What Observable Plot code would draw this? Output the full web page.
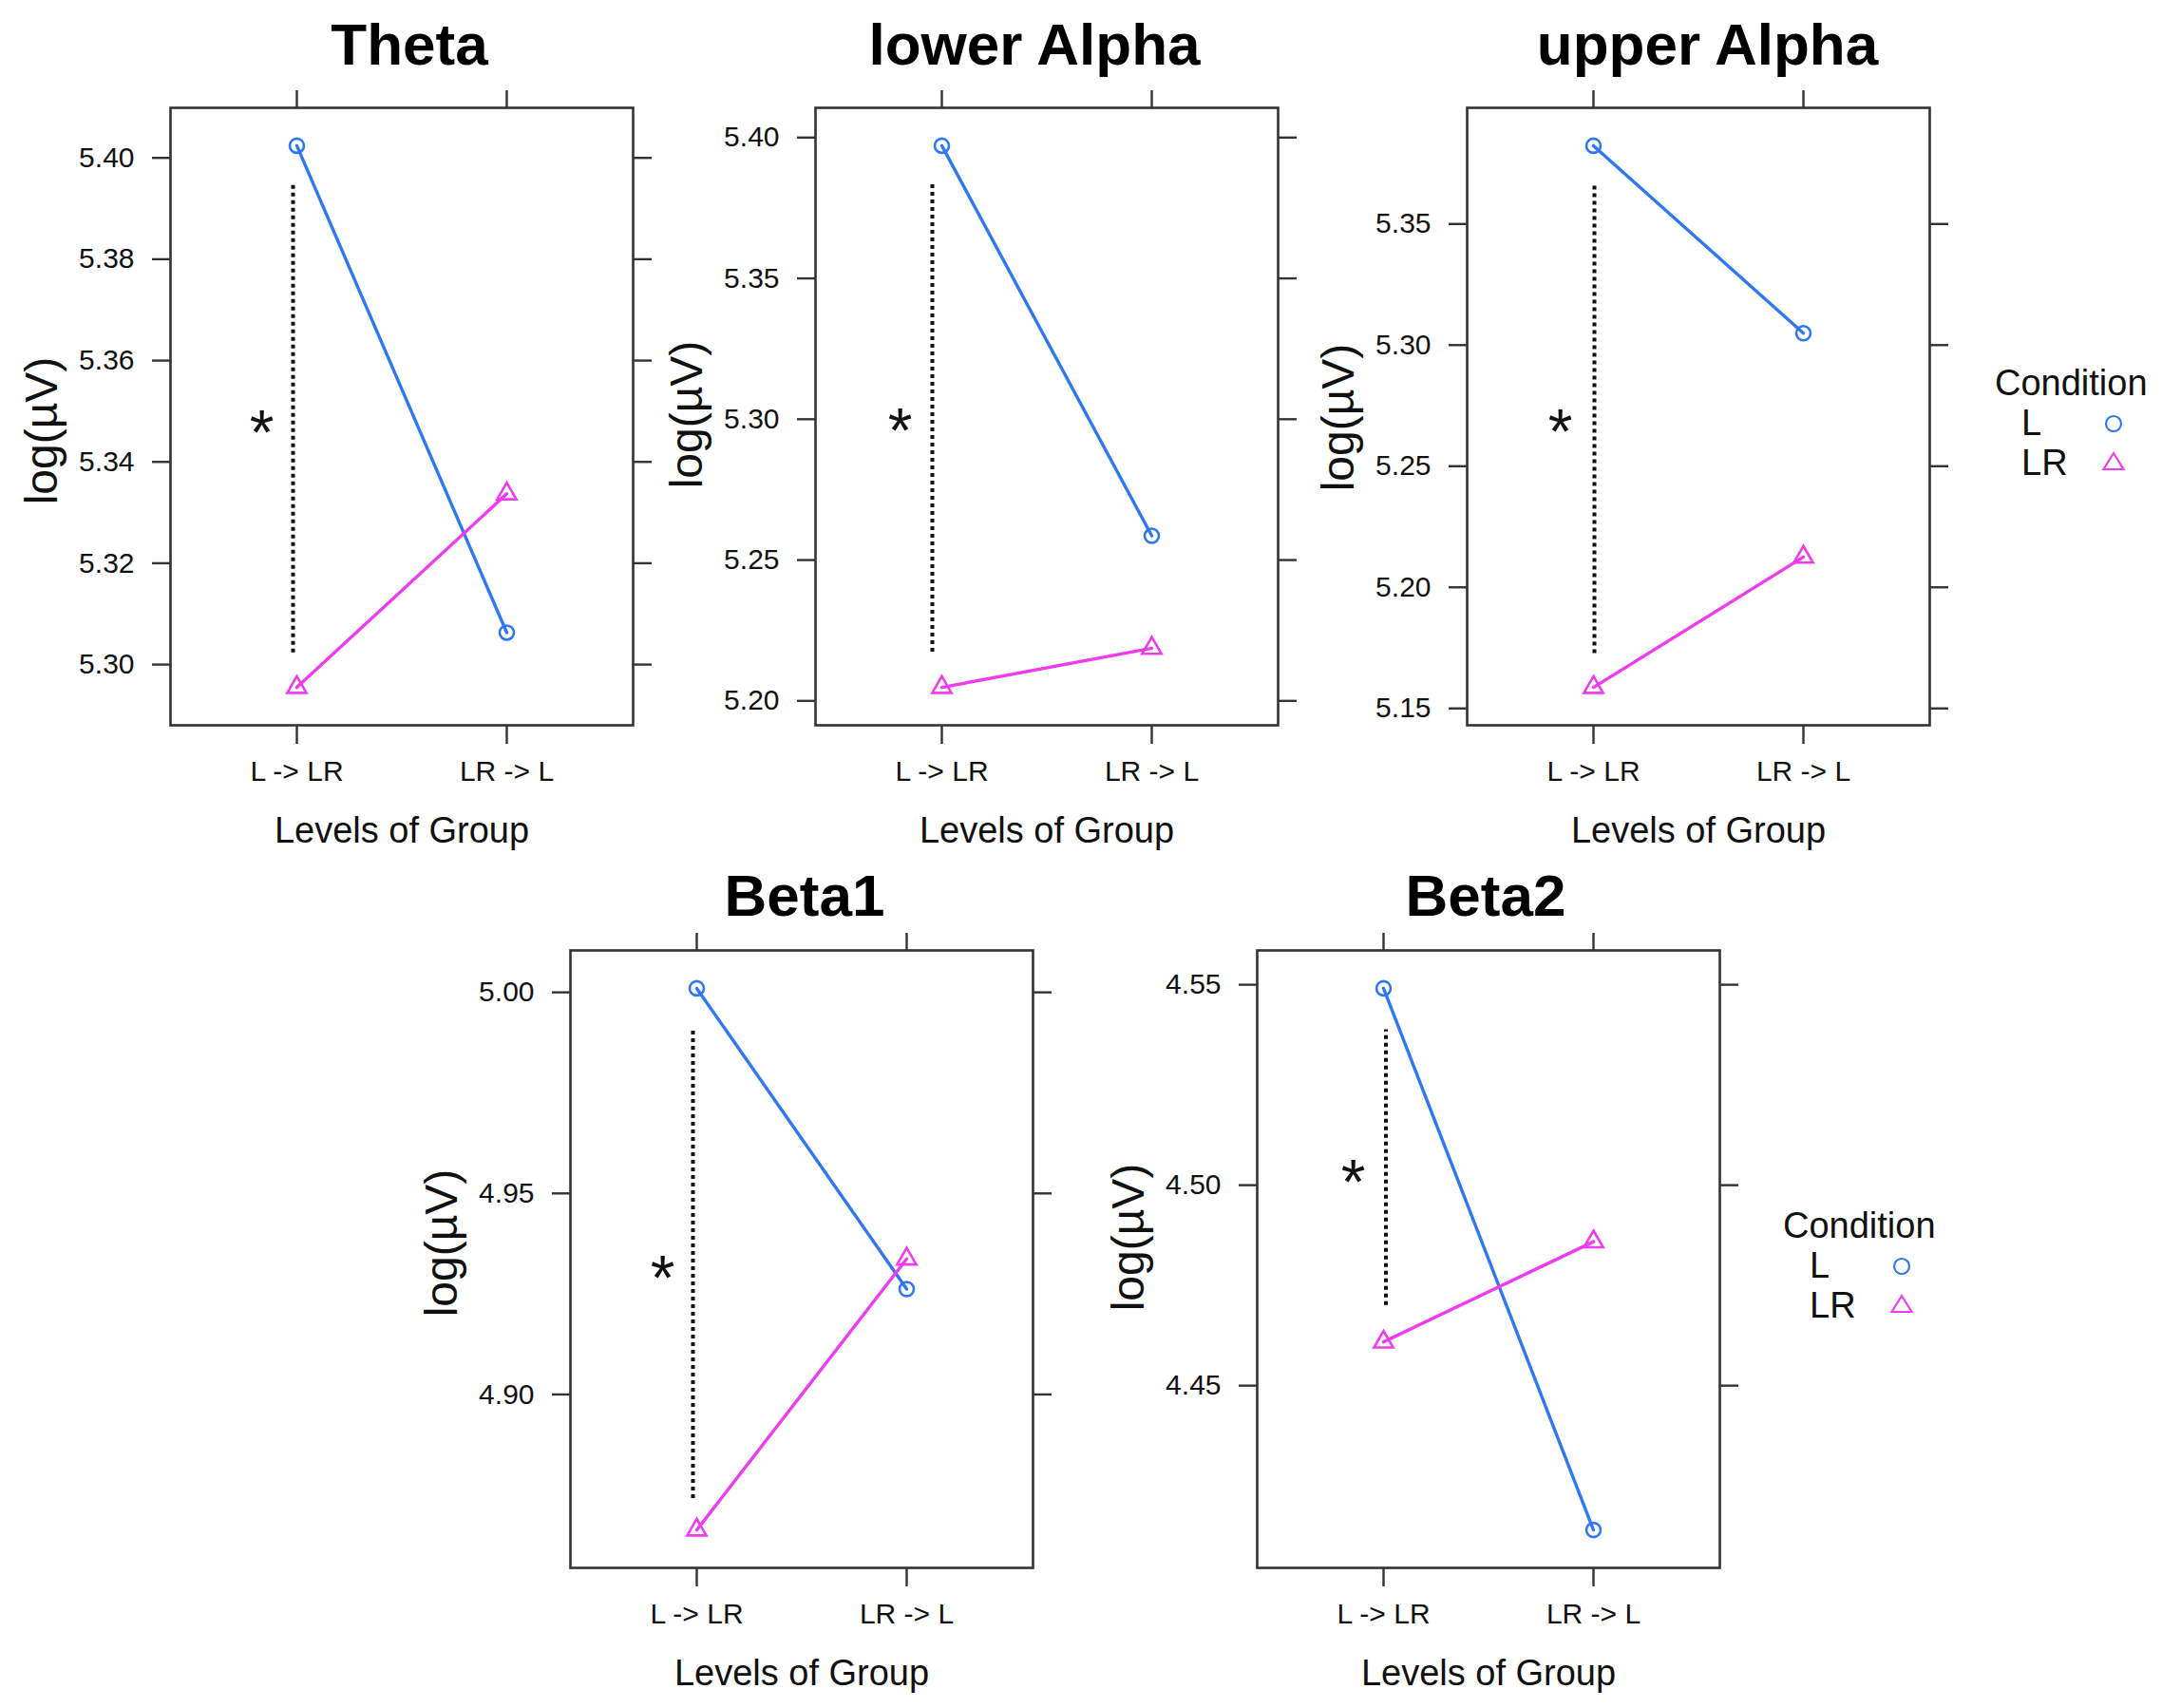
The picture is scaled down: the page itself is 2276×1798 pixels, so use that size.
<!DOCTYPE html>
<html><head><meta charset="utf-8">
<script src="https://cdn.jsdelivr.net/npm/d3@7"></script>
<script src="https://cdn.jsdelivr.net/npm/@observablehq/plot@0.6"></script>
<style>
html,body{margin:0;padding:0;background:#fff;}
#root{position:relative;width:2276px;height:1798px;overflow:hidden;font-family:"Liberation Sans",Arial,sans-serif;color:#111;background:#fff;}
.panel{position:absolute;}
.legend{position:absolute;font-size:38px;line-height:42px;color:#111;}
.legend .row{position:relative;height:42px;}
.legend .row span{padding-left:28px;}
.legend .row svg{position:absolute;left:113px;top:8px;overflow:visible;}
</style></head>
<body><div id="root"></div>
<script>
// ---------------- data ----------------
const groups = ["L -> LR", "LR -> L"];
const conditions = ["L", "LR"];
const bands = ["Theta", "lower Alpha", "upper Alpha", "Beta1", "Beta2"];
const valuesL  = [[5.4024, 5.3063], [5.3971, 5.2586], [5.3823, 5.3049], [5.0010, 4.9262], [4.5491, 4.4140]];
const valuesLR = [[5.2955, 5.3337], [5.2048, 5.2187], [5.1587, 5.2125], [4.8663, 4.9337], [4.4609, 4.4859]];
const yTicks = [
  [5.30, 5.32, 5.34, 5.36, 5.38, 5.40],
  [5.20, 5.25, 5.30, 5.35, 5.40],
  [5.15, 5.20, 5.25, 5.30, 5.35],
  [4.90, 4.95, 5.00],
  [4.45, 4.50, 4.55]
];
const sigLow  = [5.3023, 5.2173, 5.1727, 4.8741, 4.4700];
const sigHigh = [5.3950, 5.3839, 5.3669, 4.9908, 4.5388];
const starY   = [5.347, 5.298, 5.2666, 4.9305, 4.5023];
const starText = "*";
const yLabel = "log(µV)";
const xLabel = "Levels of Group";
const legendTitle = "Condition";
const colors = ["#2f78f2", "#ee3cee"];

// ---------------- layout ----------------
const W = 487, H = 650, ML = 175, MR = 45, MT = 105, MB = 145;
const layout = [
  {left: 178.5, top: 113, titleDx: 8,   titleDy: -46, sigDx: -4,  starDx: -37, yLabDy: 15},
  {left: 858,   top: 113, titleDx: -13, titleDy: -46, sigDx: -10, starDx: -44, yLabDy: -2},
  {left: 1544,  top: 113, titleDx: 9.5, titleDy: -46, sigDx: 1,   starDx: -35, yLabDy: 1},
  {left: 599.5, top: 1000, titleDx: 3,  titleDy: -37, sigDx: -4,  starDx: -36, yLabDy: -17},
  {left: 1322.5, top: 1000, titleDx: -3, titleDy: -37, sigDx: 2.5, starDx: -32, yLabDy: -23}
];
const legends = [{left: 2100, top: 382}, {left: 1877, top: 1269}];

const root = document.getElementById("root");
const axisColor = "#333";

bands.forEach((band, i) => {
  const L = layout[i];
  const rows = [];
  groups.forEach((g, j) => {
    rows.push({group: g, condition: conditions[0], value: valuesL[i][j]});
    rows.push({group: g, condition: conditions[1], value: valuesLR[i][j]});
  });
  const [lo, hi] = d3.extent(rows, d => d.value);
  const pad = (hi - lo) * 0.07;
  const chart = Plot.plot({
    width: W + ML + MR,
    height: H + MT + MB,
    marginLeft: ML, marginRight: MR, marginTop: MT, marginBottom: MB,
    style: {background: "transparent", overflow: "visible", fontFamily: "'Liberation Sans', Arial, sans-serif", color: "#111", maxWidth: "none"},
    x: {type: "point", domain: groups, padding: 0.6},
    y: {domain: [lo - pad, hi + pad]},
    color: {domain: conditions, range: colors},
    symbol: {domain: conditions, range: ["circle", "triangle"]},
    marks: [
      Plot.axisX({anchor: "bottom", tickSize: 20, tickPadding: 17, fontSize: 30, stroke: axisColor, strokeWidth: 2.4, label: null}),
      Plot.axisX({anchor: "top", tickSize: 19, tickFormat: () => "", stroke: axisColor, strokeWidth: 2.4, label: null}),
      Plot.axisY({anchor: "left", ticks: yTicks[i], tickFormat: ".2f", tickSize: 19, tickPadding: 19, fontSize: 30, stroke: axisColor, strokeWidth: 2.4, label: null}),
      Plot.axisY({anchor: "right", ticks: yTicks[i], tickFormat: () => "", tickSize: 19, stroke: axisColor, strokeWidth: 2.4, label: null}),
      Plot.frame({stroke: axisColor, strokeWidth: 2.6}),
      Plot.ruleX([groups[0]], {x: d => d, y1: () => sigLow[i], y2: () => sigHigh[i], dx: L.sigDx, stroke: "#111", strokeWidth: 4, strokeDasharray: "4,4"}),
      Plot.text([starY[i]], {x: () => groups[0], y: d => d, text: () => starText, dx: L.starDx, dy: 29, lineAnchor: "bottom", fontSize: 66, fill: "#111"}),
      Plot.line(rows, {x: "group", y: "value", z: "condition", stroke: "condition", strokeWidth: 3.4}),
      Plot.dot(rows, {x: "group", y: "value", stroke: "condition", symbol: "condition", r: 7.5, strokeWidth: 2.6, fill: "none"}),
      Plot.text([band], {text: d => d, frameAnchor: "top", dx: L.titleDx, dy: L.titleDy, lineAnchor: "bottom", fontSize: 62, fontWeight: "bold", fill: "#000"}),
      Plot.text([xLabel], {text: d => d, frameAnchor: "bottom", dy: 123, lineAnchor: "bottom", fontSize: 38, fill: "#111"}),
      Plot.text([yLabel], {text: d => d, frameAnchor: "left", textAnchor: "middle", dx: -135, dy: L.yLabDy, rotate: -90, lineAnchor: "middle", fontSize: 48, fill: "#111"})
    ]
  });
  const wrap = document.createElement("div");
  wrap.className = "panel";
  wrap.style.left = (L.left - ML) + "px";
  wrap.style.top = (L.top - MT) + "px";
  wrap.appendChild(chart);
  root.appendChild(wrap);
});

// legends
const symbolSvg = [
  c => `<svg width="24" height="24" viewBox="-12 -12 24 24" style="top:10px"><circle r="8" fill="none" stroke="${c}" stroke-width="2.2"/></svg>`,
  c => `<svg width="24" height="24" viewBox="-12 -12 24 24"><path d="M0,-9L10.5,8H-10.5Z" fill="none" stroke="${c}" stroke-width="2.2"/></svg>`
];
legends.forEach(pos => {
  const div = document.createElement("div");
  div.className = "legend";
  div.style.left = pos.left + "px";
  div.style.top = pos.top + "px";
  div.innerHTML = `<div>${legendTitle}</div>` +
    conditions.map((c, k) => `<div class="row"><span>${c}</span>${symbolSvg[k](colors[k])}</div>`).join("");
  root.appendChild(div);
});
</script>
</body></html>
